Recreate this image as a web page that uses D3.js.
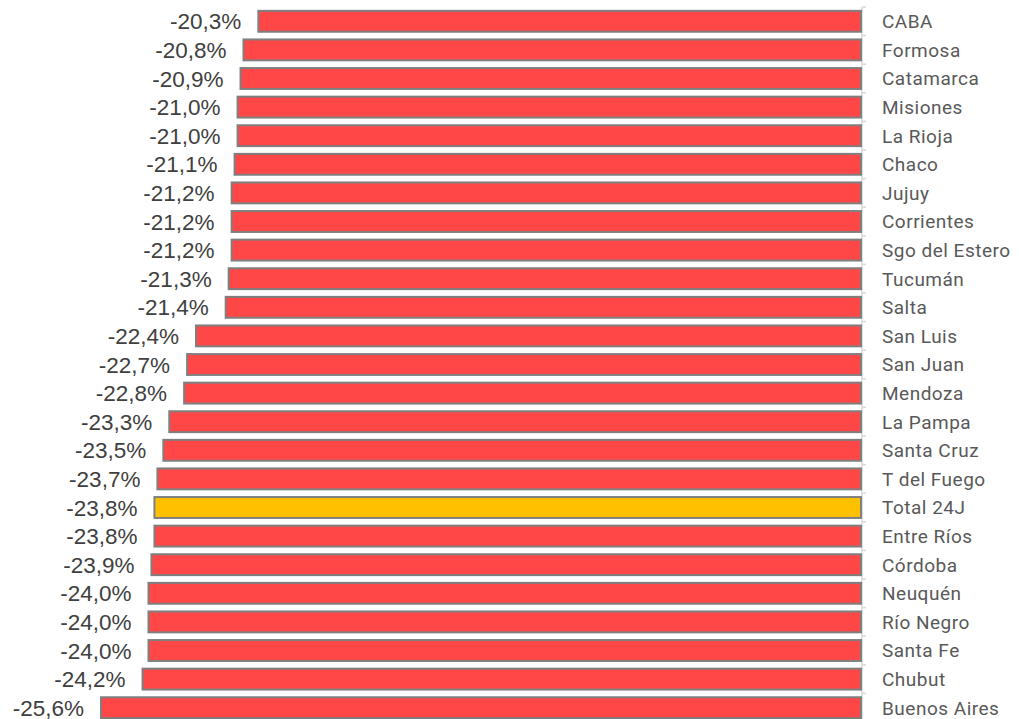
<!DOCTYPE html>
<html>
<head>
  <meta http-equiv="Content-Type" content="text/html;charset=utf-8">
  <title>Variacion por provincia</title>
  <script src="https://d3js.org/d3.v7.min.js"></script>
  <style>
    html, body { margin: 0; padding: 0; background: #fff; }
    .val { font-family: "Liberation Sans", Arial, sans-serif; font-size: 22.5px; fill: #404040; }
    .cat { font-family: Roboto, sans-serif; font-size: 19px; letter-spacing: 0.5px; fill: #595959; }
  </style>
</head>
<body>
<script>
  var provincias = ["CABA", "Formosa", "Catamarca", "Misiones", "La Rioja", "Chaco", "Jujuy",
    "Corrientes", "Sgo del Estero", "Tucumán", "Salta", "San Luis", "San Juan", "Mendoza",
    "La Pampa", "Santa Cruz", "T del Fuego", "Total 24J", "Entre Ríos", "Córdoba", "Neuquén",
    "Río Negro", "Santa Fe", "Chubut", "Buenos Aires"];
  var variacion = [-20.3, -20.8, -20.9, -21.0, -21.0, -21.1, -21.2, -21.2, -21.2, -21.3, -21.4,
    -22.4, -22.7, -22.8, -23.3, -23.5, -23.7, -23.8, -23.8, -23.9, -24.0, -24.0, -24.0, -24.2, -25.6];
  var destacado = "Total 24J";

  var data = provincias.map(function (p, i) { return { name: p, v: variacion[i] }; });

  var W = 1019, H = 719;
  var svg = d3.select("body").append("svg").attr("width", W).attr("height", H);

  var x = d3.scaleLinear().domain([-25.6, 0]).range([101, 861]);
  var y = d3.scaleBand().domain(provincias).range([7, 722]).paddingInner(0.27).paddingOuter(0.135);

  // axis line with ticks at category boundaries
  var step = y.step();
  var axis = svg.append("g").attr("stroke", "#d9d9d9").attr("stroke-width", 1.5);
  axis.append("line").attr("x1", 862).attr("x2", 862).attr("y1", 7).attr("y2", H);
  axis.selectAll("line.tk").data(d3.range(provincias.length + 1)).enter().append("line")
    .attr("class", "tk")
    .attr("x1", 862).attr("x2", 866)
    .attr("y1", function (i) { return 7 + i * step; })
    .attr("y2", function (i) { return 7 + i * step; });

  svg.selectAll("rect.bar").data(data).enter().append("rect")
    .attr("class", "bar")
    .attr("x", function (d) { return x(d.v); })
    .attr("y", function (d) { return y(d.name); })
    .attr("width", function (d) { return x(0) - x(d.v); })
    .attr("height", y.bandwidth())
    .attr("fill", function (d) { return d.name === destacado ? "#ffc000" : "#ff4747"; })
    .attr("stroke", "#7f7f7f")
    .attr("stroke-width", 2);

  svg.selectAll("text.val").data(data).enter().append("text")
    .attr("class", "val")
    .attr("x", function (d) { return x(d.v) - 17; })
    .attr("y", function (d) { return y(d.name) + y.bandwidth() / 2; })
    .attr("dy", "0.36em")
    .attr("text-anchor", "end")
    .text(function (d) { return d.v.toFixed(1).replace(".", ",") + "%"; });

  svg.selectAll("text.cat").data(data).enter().append("text")
    .attr("class", "cat")
    .attr("x", 882)
    .attr("y", function (d) { return y(d.name) + y.bandwidth() / 2; })
    .attr("dy", "0.36em")
    .text(function (d) { return d.name; });
</script>
</body>
</html>
